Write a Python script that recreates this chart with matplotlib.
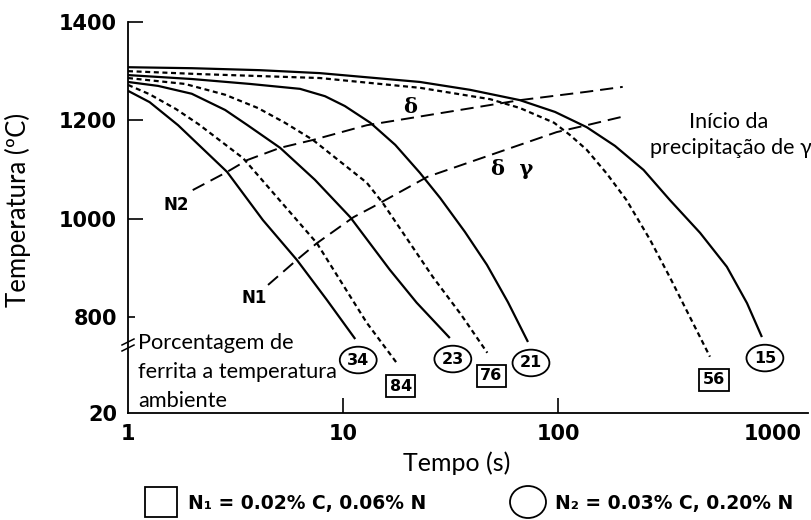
import matplotlib
matplotlib.use("Agg")
import matplotlib.pyplot as plt
from matplotlib.patches import Rectangle, Ellipse
from matplotlib.lines import Line2D

plt.rcParams['lines.scale_dashes'] = False

# ---------------- data ----------------
# N2 (solid, circle labels)
t_34 = [1, 1.26, 1.71, 2.89, 4.24, 6.1, 8.4, 11.4]
T_34 = [1260, 1237, 1190, 1095, 997, 916, 835, 755]
t_23 = [1, 1.38, 1.98, 2.83, 3.6, 5.1, 7.4, 10.8, 16.5, 22.0, 31.4]
T_23 = [1278, 1270, 1254, 1221, 1190, 1144, 1079, 1003, 896, 829, 757]
t_21 = [1, 1.98, 3.69, 6.31, 8.25, 10.2, 13.4, 17.5, 22.8, 28.3, 36.9, 46.7, 58.5, 72.5]
T_21 = [1292, 1284, 1274, 1264, 1249, 1229, 1195, 1150, 1093, 1042, 973, 906, 830, 749]
t_15 = [1, 1.98, 4.1, 7.8, 22.8, 39.0, 66.5, 96.9, 136, 184, 250, 331, 458, 610, 757, 888]
T_15 = [1308, 1306, 1302, 1296, 1278, 1262, 1241, 1217, 1186, 1148, 1099, 1038, 971, 902, 828, 759]
# N1 (dashed, square labels)
t_84 = [1, 1.26, 1.67, 2.13, 3.43, 6.1, 7.56, 12.9, 17.8]
T_84 = [1272, 1253, 1223, 1192, 1123, 997, 950, 788, 706]
t_76 = [1, 1.84, 2.83, 4.02, 5.37, 7.25, 12.9, 15.3, 26.2, 35.5, 46.9]
T_76 = [1286, 1274, 1252, 1225, 1195, 1160, 1073, 1032, 881, 804, 727]
t_56 = [1, 2.16, 7.8, 22.9, 48.3, 66.5, 95.9, 113.7, 136, 169, 208, 268, 331, 509]
T_56 = [1300, 1294, 1286, 1266, 1243, 1225, 1195, 1170, 1140, 1091, 1038, 957, 881, 719]

solid_t = [t_34, t_23, t_21, t_15]
solid_T = [T_34, T_23, T_21, T_15]
solid_lab = ["34", "23", "21", "15"]
dash_t = [t_84, t_76, t_56]
dash_T = [T_84, T_76, T_56]
dash_lab = ["84", "76", "56"]

# long-dashed boundary lines
tN2 = [2.0, 2.89, 3.58, 5.1, 7.25, 12.9, 66.5, 136, 200]
TN2 = [1058, 1095, 1119, 1144, 1160, 1190, 1241, 1258, 1268]
tN1 = [4.48, 6.1, 7.56, 11.2, 13.8, 24.7, 98.6, 136, 198]
TN1 = [865, 916, 950, 1003, 1024, 1085, 1176, 1190, 1207]

xticks = [1, 10, 100, 1000]
xticklabels = ["1", "10", "100", "1000"]
yticks = [800, 1000, 1200, 1400]
yticklabels = ["800", "1000", "1200", "1400"]
y_bottom_label = "20"

# ---------------- figure ----------------
W, H = 811, 520
fig = plt.figure(figsize=(W / 100, H / 100), dpi=100)
ax = fig.add_axes([128 / W, 1 - 413 / H, (808 - 128) / W, (413 - 22) / H])
ax.set_xscale('log')
xmax = 10 ** ((808 - 128) / 215)
ymin = 1400 - (413 - 22) * 200 / 98.3
ax.set_xlim(1, xmax)
ax.set_ylim(ymin, 1400)

for s in ['top', 'right']:
    ax.spines[s].set_visible(False)
for s in ['left', 'bottom']:
    ax.spines[s].set_linewidth(1.3)

tickfont = dict(family='DejaVu Sans', weight='bold', size=15)
ax.set_xticks(xticks)
ax.set_xticklabels(xticklabels, **tickfont)
ax.xaxis.set_minor_locator(matplotlib.ticker.NullLocator())
ax.set_yticks([ymin] + yticks)
ax.set_yticklabels([y_bottom_label] + yticklabels, **tickfont)
ax.tick_params(axis='both', direction='in', length=11, width=1.2, pad=8)
for tk, lab in zip(ax.xaxis.get_major_ticks(), xticklabels):
    if lab in ("1", "1000"):
        tk.tick1line.set_visible(False)
ax.yaxis.get_major_ticks()[0].tick1line.set_visible(False)
ax.yaxis.get_major_ticks()[1].tick1line.set_markersize(5)

# curves
for t, T, lab in zip(solid_t, solid_T, solid_lab):
    ax.plot(t, T, color='black', lw=1.6, solid_capstyle='butt', solid_joinstyle='round')
    ax.annotate(lab, xy=(t[-1], T[-1]), xytext=(3, -21), textcoords='offset pixels',
                ha='center', va='center', fontsize=11.5, fontweight='bold',
                family='DejaVu Sans',
                bbox=dict(boxstyle='ellipse,pad=0.12', fc='white', ec='black', lw=1.3))
for t, T, lab in zip(dash_t, dash_T, dash_lab):
    ln, = ax.plot(t, T, color='black', lw=1.6)
    ln.set_dashes((3.6, 2.6))
    ax.annotate(lab, xy=(t[-1], T[-1]), xytext=(4, -23), textcoords='offset pixels',
                ha='center', va='center', fontsize=11.5, fontweight='bold',
                family='DejaVu Sans',
                bbox=dict(boxstyle='square,pad=0.22', fc='white', ec='black', lw=1.3))

for t, T in ((tN2, TN2), (tN1, TN1)):
    ln, = ax.plot(t, T, color='black', lw=1.4)
    ln.set_dashes((9.5, 5))

ax.annotate("N2", xy=(tN2[0], TN2[0]), xytext=(-16, -15), textcoords='offset pixels',
            ha='center', va='center', fontsize=12, fontweight='bold', family='DejaVu Sans')
ax.annotate("N1", xy=(tN1[0], TN1[0]), xytext=(-14, -13), textcoords='offset pixels',
            ha='center', va='center', fontsize=12, fontweight='bold', family='DejaVu Sans')
ax.text(20.5, 1227, "δ", ha='center', va='center', fontsize=15,
        family='DejaVu Serif', fontweight='bold')
ax.text(61, 1101, "δ  γ", ha='center', va='center', fontsize=15,
        family='DejaVu Serif', fontweight='bold')

# axis labels / annotations (Calibri-like)
lab_font = ['Lato', 'DejaVu Sans']
fig.text(18 / W, 1 - 210 / H, "Temperatura (ºC)", rotation=90, ha='center', va='center',
         fontsize=18.5, family=lab_font)
fig.text(457 / W, 1 - 463 / H, "Tempo (s)", ha='center', va='center',
         fontsize=18, family=lab_font)
fig.text(729 / W, 1 - 122 / H, "Início da", ha='center', va='center',
         fontsize=15.5, family=lab_font)
fig.text(731 / W, 1 - 148 / H, "precipitação de γ", ha='center', va='center',
         fontsize=15.5, family=lab_font)
for i, s in enumerate(["Porcentagem de", "ferrita a temperatura", "ambiente"]):
    fig.text(138 / W, 1 - (343 + 29 * i) / H, s, ha='left', va='center',
             fontsize=15.7, family=lab_font)

# axis break mark
for dy in (-3, 3):
    fig.add_artist(Line2D([(122) / W, (134) / W], [1 - (348 + dy) / H, 1 - (342 + dy) / H],
                          color='black', lw=1.1))

# legend
fig.add_artist(Rectangle((145 / W, 1 - 517 / H), 32 / W, 30 / H, fc='white', ec='black', lw=1.3))
fig.text(188 / W, 1 - 503 / H, "N₁ = 0.02% C, 0.06% N", ha='left', va='center',
         fontsize=13.5, fontweight='bold', family='DejaVu Sans')
fig.add_artist(Ellipse((528 / W, 1 - 502 / H), 36 / W, 32 / H, fc='white', ec='black', lw=1.3))
fig.text(555 / W, 1 - 503 / H, "N₂ = 0.03% C, 0.20% N", ha='left', va='center',
         fontsize=13.5, fontweight='bold', family='DejaVu Sans')

fig.savefig("out.png", dpi=100)
